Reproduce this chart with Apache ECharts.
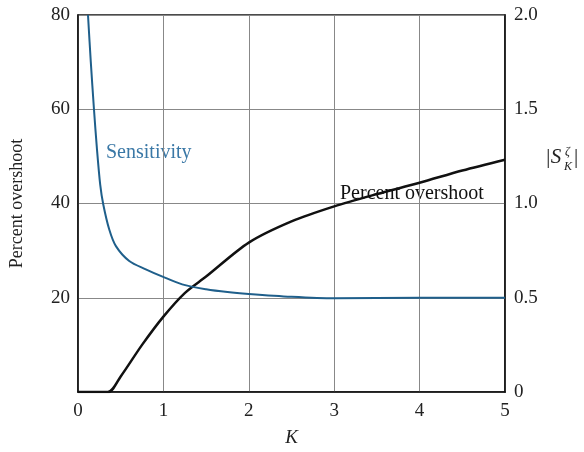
<!DOCTYPE html>
<html>
<head>
<meta charset="utf-8">
<script src="https://cdn.jsdelivr.net/npm/echarts@6/dist/echarts.min.js"></script>
<style>
  html, body { margin: 0; padding: 0; background: #fff; }
  #chart { width: 584px; height: 452px; }
</style>
</head>
<body>
<div id="chart"></div>
<script>
// K 值与百分比超调量
var kOvershoot = [0, 0.35, 0.5, 0.75, 1, 1.25, 1.5, 2, 2.5, 3, 3.5, 4, 4.5, 5];
var overshoot = [0, 0, 3.3, 10, 16, 21, 24.5, 31.7, 36.2, 39.4, 42, 44.4, 47, 49.3];

// 灵敏度 |S_K|
var kSensitivity = [0.117, 0.15, 0.187, 0.22, 0.26, 0.296, 0.366, 0.444, 0.6, 0.794, 0.99, 1.22, 1.5, 1.75, 2, 2.5, 3, 4, 5];
var sensitivity = [2.0, 1.75, 1.5, 1.3, 1.1, 0.995, 0.862, 0.774, 0.695, 0.651, 0.612, 0.571, 0.545, 0.53, 0.52, 0.505, 0.497, 0.5, 0.5];

var xTicks = [0, 1, 2, 3, 4, 5];

function pairs(xs, ys) {
    var out = [];
    for (var i = 0; i < xs.length; i++) {
        out.push([xs[i], ys[i]]);
    }
    return out;
}

var serif = '"Liberation Serif", "DejaVu Serif", serif';

var option = {
    backgroundColor: '#fff',
    animation: false,
    grid: {
        left: 77, right: 79, top: 15, bottom: 59,
        show: true,
        borderColor: '#111',
        borderWidth: 1.5
    },
    xAxis: {
        type: 'value',
        min: 0, max: 5, interval: 1,
        name: 'K',
        nameLocation: 'middle',
        nameGap: 36,
        nameTextStyle: { fontFamily: serif, fontStyle: 'italic', fontSize: 19, color: '#222' },
        axisLine: { show: true, lineStyle: { color: '#111', width: 1.5 } },
        axisTick: { show: false },
        axisLabel: {
            margin: 10,
            fontFamily: serif, fontSize: 19, color: '#222',
            formatter: function (v) { return xTicks.indexOf(v) >= 0 ? String(v) : ''; }
        },
        splitLine: { show: true, lineStyle: { color: '#888', width: 1 } }
    },
    yAxis: [
        {
            type: 'value',
            min: 0, max: 80, interval: 20,
            name: 'Percent overshoot',
            nameLocation: 'middle',
            nameGap: 52,
            nameTextStyle: { fontFamily: serif, fontSize: 18, color: '#222' },
            axisLine: { show: true, lineStyle: { color: '#111', width: 1.5 } },
            axisTick: { show: false },
            axisLabel: {
                margin: 8,
                fontFamily: serif, fontSize: 19, color: '#222',
                formatter: function (v) { return v === 0 ? '' : String(v); }
            },
            splitLine: { show: true, lineStyle: { color: '#888', width: 1 } }
        },
        {
            type: 'value',
            min: 0, max: 2, interval: 0.5,
            position: 'right',
            axisLine: { show: true, lineStyle: { color: '#111', width: 1.5 } },
            axisTick: { show: false },
            axisLabel: {
                margin: 9,
                fontFamily: serif, fontSize: 19, color: '#222',
                formatter: function (v) { return v === 0 ? '0' : v.toFixed(1); }
            },
            splitLine: { show: false }
        }
    ],
    series: [
        {
            name: 'Percent overshoot',
            type: 'line',
            yAxisIndex: 0,
            data: pairs(kOvershoot, overshoot),
            smooth: 0.3,
            showSymbol: false,
            lineStyle: { color: '#111', width: 2.5 }
        },
        {
            name: 'Sensitivity',
            type: 'line',
            yAxisIndex: 1,
            data: pairs(kSensitivity, sensitivity),
            smooth: 0.3,
            showSymbol: false,
            lineStyle: { color: '#1f5f8b', width: 2 }
        }
    ],
    graphic: [
        {
            type: 'text', left: 106, top: 143,
            style: { text: 'Sensitivity', fontFamily: serif, fontSize: 20, fill: '#3a78a6' }
        },
        {
            type: 'text', left: 340, top: 184,
            style: { text: 'Percent overshoot', fontFamily: serif, fontSize: 20, fill: '#111' }
        },
        // 右轴名称 |S_K^ζ|
        {
            type: 'text', left: 545, top: 147,
            style: { text: '|S', fontFamily: serif, fontStyle: 'italic', fontSize: 21, fill: '#222' }
        },
        {
            type: 'text', left: 565, top: 146,
            style: { text: 'ζ', fontFamily: serif, fontStyle: 'italic', fontSize: 12, fill: '#222' }
        },
        {
            type: 'text', left: 564, top: 161,
            style: { text: 'K', fontFamily: serif, fontStyle: 'italic', fontSize: 12, fill: '#222' }
        },
        {
            type: 'text', left: 574, top: 147,
            style: { text: '|', fontFamily: serif, fontSize: 21, fill: '#222' }
        }
    ]
};

var chart = echarts.init(document.getElementById('chart'));
chart.setOption(option);
</script>
</body>
</html>
